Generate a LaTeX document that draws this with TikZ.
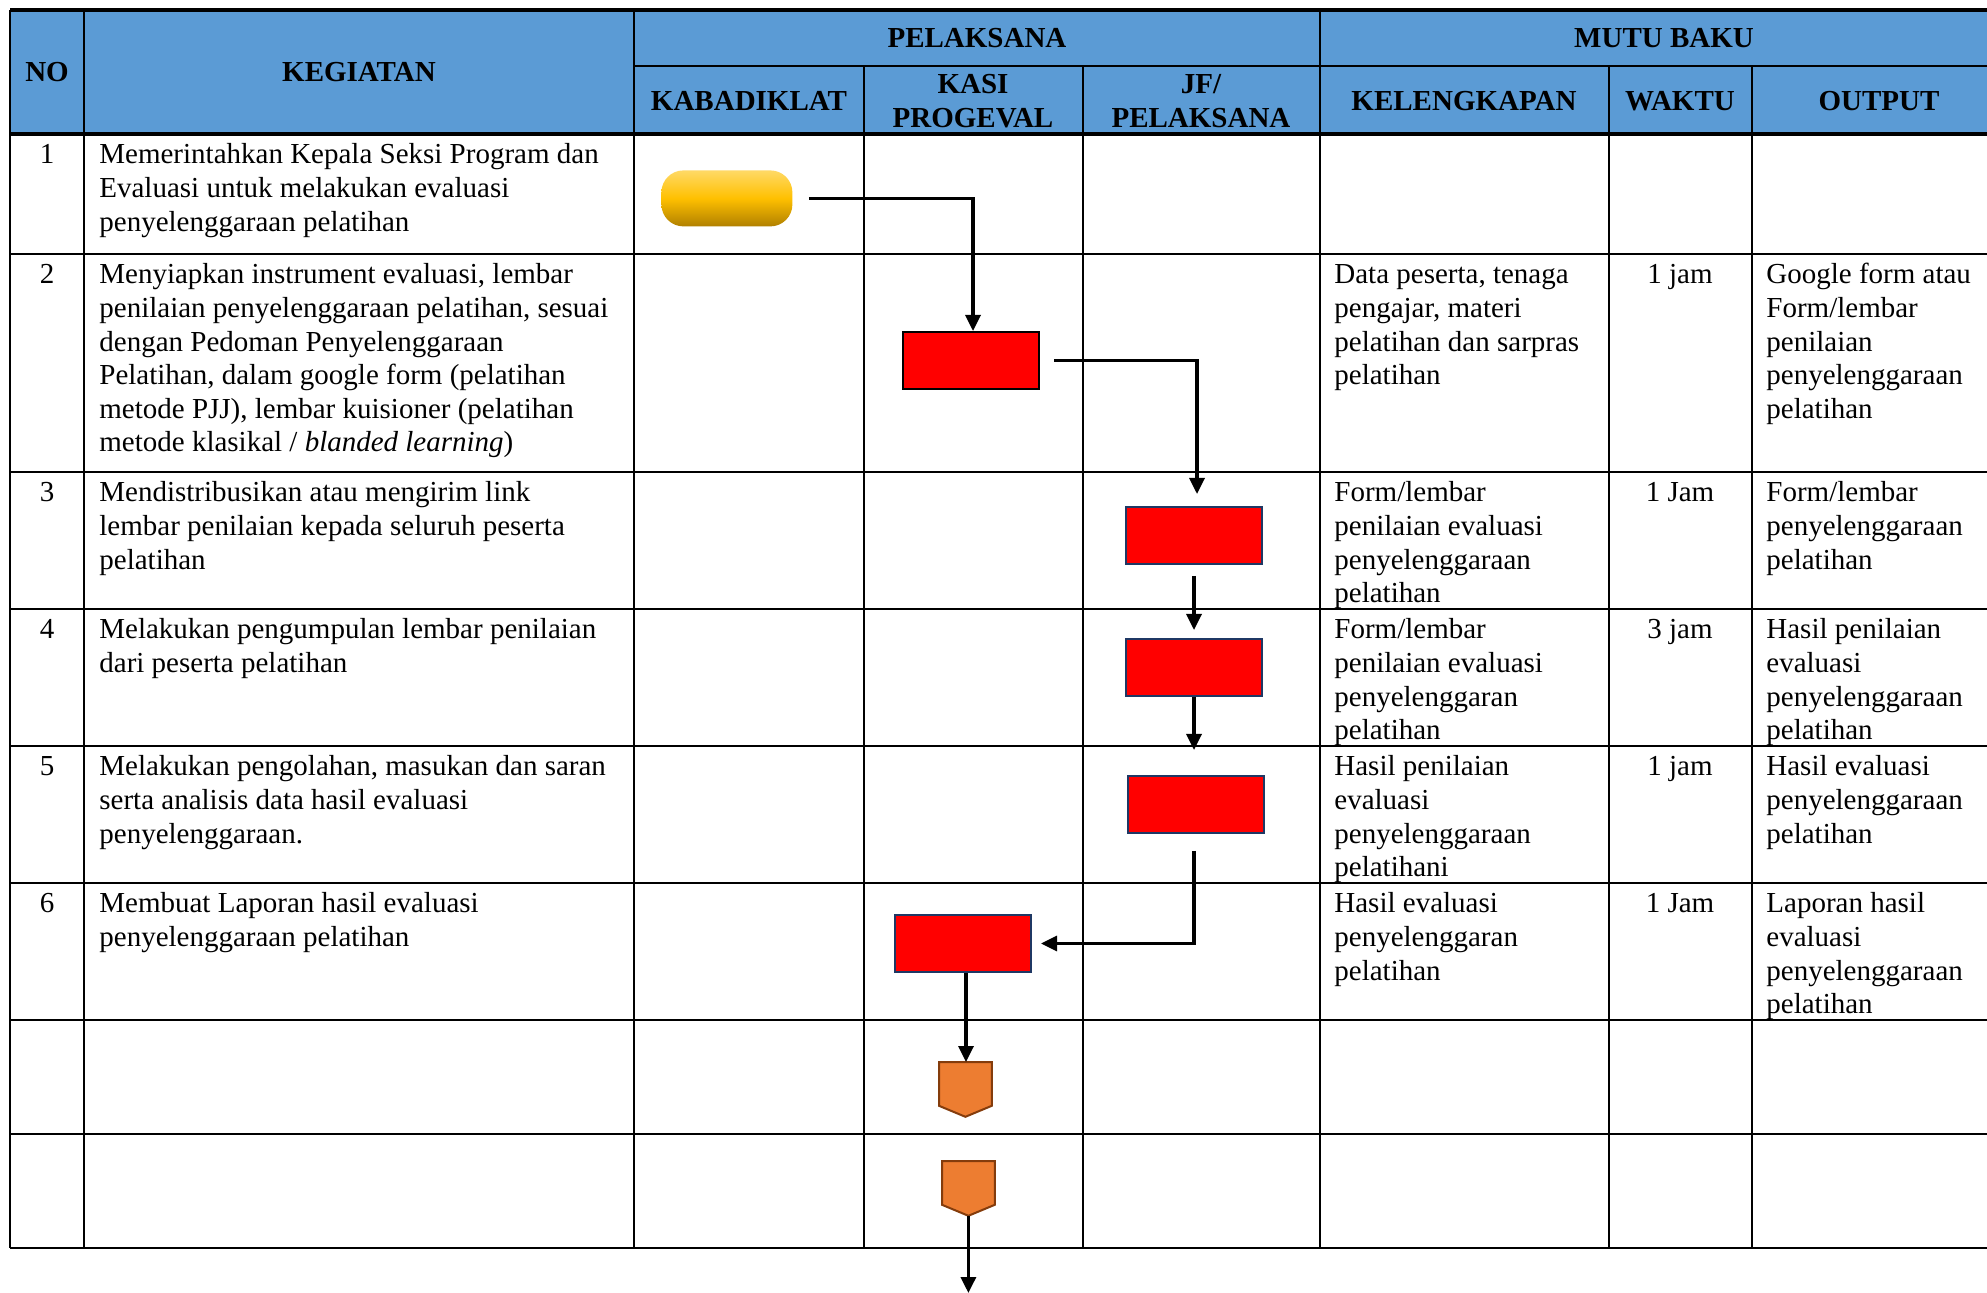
\documentclass[tikz,border=0pt]{standalone}
\usepackage{fontspec}
\setmainfont{Liberation Serif}
\usetikzlibrary{arrows.meta}
\definecolor{hdr}{HTML}{5B9BD5}
\definecolor{boxred}{HTML}{FF0000}
\definecolor{navy}{HTML}{1F3864}
\definecolor{orng}{HTML}{ED7D31}
\definecolor{brwn}{HTML}{843C0C}
\definecolor{ylw1}{HTML}{FFD966}
\definecolor{ylw2}{HTML}{FFC000}
\definecolor{ylw3}{HTML}{B08000}
\newcommand\bodyfont{\fontsize{14.5}{16.8}\selectfont}
\begin{document}
\begin{tikzpicture}[x=0.5pt,y=-0.5pt,
  grid/.style={line width=1.1pt,black},
  gridthick/.style={line width=1.6pt,black},
  hd/.style={font=\bodyfont\bfseries,align=center,inner sep=0pt},
  cell/.style={font=\bodyfont,align=left,anchor=north west,inner sep=0pt},
  num/.style={font=\bodyfont,align=center,anchor=north,inner sep=0pt},
  redbox/.style={draw=navy,line width=1pt,fill=boxred,minimum width=68pt,minimum height=28.5pt,inner sep=0pt,anchor=north west},
  term/.style={rounded corners=11pt,top color=ylw1,bottom color=ylw3,middle color=ylw2,draw=none,minimum width=65.5pt,minimum height=28pt,inner sep=0pt,anchor=north west},
  pent/.style={minimum width=26pt,minimum height=27pt,inner sep=0pt,anchor=north west},
  offpage/.style={fill=orng,draw=brwn,line width=1pt,line join=miter},
  arr/.style={line width=1.65pt,-{Triangle[length=8pt,width=7.5pt]}}
]
\useasboundingbox (0,0) rectangle (1987,1293);
% header background
\fill[hdr] (10,10) rectangle (1987,134);
% vertical lines
\draw[grid] (10,10) -- (10,1248);
\draw[grid] (84,10) -- (84,1248);
\draw[grid] (634,10) -- (634,1248);
\draw[grid] (1320,10) -- (1320,1248);
\draw[grid] (864,66) -- (864,1248);
\draw[grid] (1083,66) -- (1083,1248);
\draw[grid] (1609,66) -- (1609,1248);
\draw[grid] (1752,66) -- (1752,1248);
% horizontal lines
\draw[gridthick] (10,10) -- (1987,10);
\draw[grid] (634,66) -- (1987,66);
\draw[gridthick] (10,134) -- (1987,134);
\foreach \yy in {254,472,609,746,883,1020,1134,1248}
  \draw[grid] (10,\yy) -- (1987,\yy);
% header texts
\node[hd] (hNo) at (47,72) {NO};
\node[hd] (hKeg) at (359,72) {KEGIATAN};
\node[hd] (hPel) at (977,38) {PELAKSANA};
\node[hd] (hMutu) at (1664,38) {MUTU BAKU};
\node[hd] (hKab) at (749,101) {KABADIKLAT};
\node[hd] (hKasi) at (973,101) {KASI\\PROGEVAL};
\node[hd] (hJf) at (1201,101) {JF/\\PELAKSANA};
\node[hd] (hKel) at (1464,101) {KELENGKAPAN};
\node[hd] (hWak) at (1680,101) {WAKTU};
\node[hd] (hOut) at (1879,101) {OUTPUT};
% row 1
\node[num] (n1) at (47,140) {\strut 1};
\node[cell] (k1) at (99,140) {\strut Memerintahkan Kepala Seksi Program dan\\Evaluasi untuk melakukan evaluasi\\penyelenggaraan pelatihan};
% row 2
\node[num] (n2) at (47,260) {\strut 2};
\node[cell] (k2) at (99,260) {\strut Menyiapkan instrument evaluasi, lembar\\penilaian penyelenggaraan pelatihan, sesuai\\dengan Pedoman Penyelenggaraan\\Pelatihan, dalam google form (pelatihan\\metode PJJ), lembar kuisioner (pelatihan\\metode klasikal / \textit{blanded learning})};
\node[cell] (l2) at (1334,260) {\strut Data peserta, tenaga\\pengajar, materi\\pelatihan dan sarpras\\pelatihan};
\node[num] (w2) at (1680,260) {\strut 1 jam};
\node[cell] (o2) at (1766,260) {\strut Google form atau\\Form/lembar\\penilaian\\penyelenggaraan\\pelatihan};
% row 3
\node[num] (n3) at (47,478) {\strut 3};
\node[cell] (k3) at (99,478) {\strut Mendistribusikan atau mengirim link\\lembar penilaian kepada seluruh peserta\\pelatihan};
\node[cell] (l3) at (1334,478) {\strut Form/lembar\\penilaian evaluasi\\penyelenggaraan\\pelatihan};
\node[num] (w3) at (1680,478) {\strut 1 Jam};
\node[cell] (o3) at (1766,478) {\strut Form/lembar\\penyelenggaraan\\pelatihan};
% row 4
\node[num] (n4) at (47,615) {\strut 4};
\node[cell] (k4) at (99,615) {\strut Melakukan pengumpulan lembar penilaian\\dari peserta pelatihan};
\node[cell] (l4) at (1334,615) {\strut Form/lembar\\penilaian evaluasi\\penyelenggaran\\pelatihan};
\node[num] (w4) at (1680,615) {\strut 3 jam};
\node[cell] (o4) at (1766,615) {\strut Hasil penilaian\\evaluasi\\penyelenggaraan\\pelatihan};
% row 5
\node[num] (n5) at (47,752) {\strut 5};
\node[cell] (k5) at (99,752) {\strut Melakukan pengolahan, masukan dan saran\\serta analisis data hasil evaluasi\\penyelenggaraan.};
\node[cell] (l5) at (1334,752) {\strut Hasil penilaian\\evaluasi\\penyelenggaraan\\pelatihani};
\node[num] (w5) at (1680,752) {\strut 1 jam};
\node[cell] (o5) at (1766,752) {\strut Hasil evaluasi\\penyelenggaraan\\pelatihan};
% row 6
\node[num] (n6) at (47,889) {\strut 6};
\node[cell] (k6) at (99,889) {\strut Membuat Laporan hasil evaluasi\\penyelenggaraan pelatihan};
\node[cell] (l6) at (1334,889) {\strut Hasil evaluasi\\penyelenggaran\\pelatihan};
\node[num] (w6) at (1680,889) {\strut 1 Jam};
\node[cell] (o6) at (1766,889) {\strut Laporan hasil\\evaluasi\\penyelenggaraan\\pelatihan};
% flow shapes
\node[term] (t1) at (661,170) {};
\node[redbox,draw=black] (r1) at (902,331) {};
\node[redbox] (r2) at (1125,506) {};
\node[redbox] (r3) at (1125,638) {};
\node[redbox] (r4) at (1127,775) {};
\node[redbox] (r5) at (894,914) {};
\node[pent] (p1) at (939,1062) {};
\node[pent] (p2) at (942,1161) {};
\draw[offpage] (p1.north west) -- (p1.north east) -- ([yshift=5.5pt]p1.south east) -- (p1.south) -- ([yshift=5.5pt]p1.south west) -- cycle;
\draw[offpage] (p2.north west) -- (p2.north east) -- ([yshift=5.5pt]p2.south east) -- (p2.south) -- ([yshift=5.5pt]p2.south west) -- cycle;
\coordinate (endpt) at (p2.south |- 0,1293);
% connectors
\draw[arr] ([xshift=8pt]t1.east) -| ([xshift=1pt]r1.north);
\draw[arr] ([xshift=7pt]r1.east) -| ([xshift=1.5pt,yshift=6pt]r2.north);
\draw[arr] ([yshift=-5.5pt]r2.south) -- ([yshift=4pt]r3.north);
\draw[arr] (r3.south) -- ([yshift=12.5pt]r3.south |- r4.north);
\draw[arr] ([yshift=-8.5pt]r3.south |- r4.south) |- ([xshift=4.5pt]r5.east);
\draw[arr] ([xshift=1.5pt]r5.south) -- ([xshift=1.5pt]r5.south |- p1.north);
\draw[arr] (p2.south) -- (endpt);
\end{tikzpicture}
\end{document}
